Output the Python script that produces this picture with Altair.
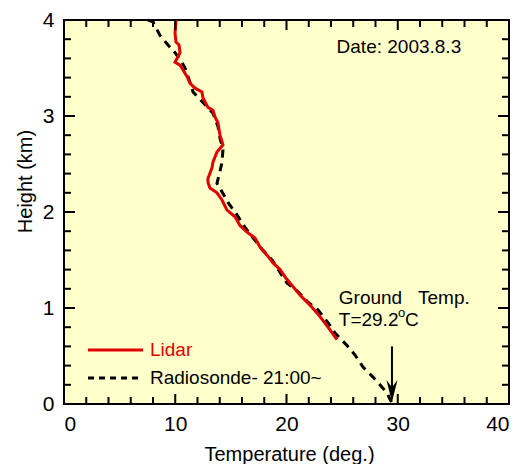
import altair as alt
import pandas as pd

# ---- data ----
lidar_T = [10.07, 9.98, 10.07, 10.34, 10.43, 10.16, 9.98, 10.43, 10.7, 11.06,
           11.33, 11.78, 12.4, 12.49, 12.94, 13.39, 13.57, 13.84, 14.02, 14.29,
           13.75, 13.39, 13.3, 12.94, 12.94, 13.12, 13.75, 14.2, 14.65, 15.37,
           15.82, 16.45, 17.17, 17.62, 18.25, 18.79, 19.42, 19.96, 20.31, 21.21,
           22.11, 23.01, 23.73, 24.54]
lidar_H = [4.0, 3.86, 3.77, 3.74, 3.66, 3.60, 3.56, 3.53, 3.48, 3.41,
           3.34, 3.29, 3.25, 3.19, 3.09, 3.06, 2.99, 2.93, 2.80, 2.70,
           2.625, 2.52, 2.46, 2.35, 2.31, 2.25, 2.20, 2.125, 2.02, 1.95,
           1.86, 1.79, 1.73, 1.635, 1.55, 1.47, 1.40, 1.31, 1.26, 1.135,
           1.03, 0.91, 0.80, 0.67]

sonde_T = [7.55, 8.0, 8.63, 9.35, 9.98, 10.6, 10.88, 11.33, 11.6, 12.5,
           13.39, 13.84, 14.02, 14.29, 14.2, 14.02, 13.75, 14.2, 14.74, 15.55,
           16.27, 16.99, 17.89, 18.7, 19.15, 20.04, 21.03, 21.93, 22.83, 23.91,
           24.36, 25.44, 26.16, 26.88, 27.78, 28.4, 29.03, 29.48]
sonde_H = [4.0, 3.98, 3.84, 3.74, 3.66, 3.56, 3.5, 3.35, 3.25, 3.14,
           3.03, 2.89, 2.77, 2.65, 2.52, 2.42, 2.30, 2.21, 2.10, 1.97,
           1.84, 1.73, 1.60, 1.50, 1.42, 1.26, 1.17, 1.06, 0.98, 0.82,
           0.74, 0.61, 0.51, 0.385, 0.28, 0.20, 0.115, 0.01]

x_major = [0, 10, 20, 30, 40]
x_minor = [v for v in range(2, 40, 2) if v % 10 != 0]
y_major = [0, 1, 2, 3, 4]
y_minor = [round(v * 0.2, 1) for v in range(1, 20) if v % 5 != 0]

ground_T = 29.48  # arrow position

W, H = 445, 384
FONT = "Liberation Sans"
RED = "#e00000"

xs = alt.Scale(domain=[0, 40], nice=False, zero=False)
ys = alt.Scale(domain=[0, 4], nice=False, zero=False)

lidar = pd.DataFrame({"T": lidar_T, "H": lidar_H, "i": range(len(lidar_T))})
sonde = pd.DataFrame({"T": sonde_T, "H": sonde_H, "i": range(len(sonde_T))})

base_x = alt.X("T:Q", scale=xs, title="Temperature (deg.)",
               axis=alt.Axis(values=x_major, format="d", ticks=False, tickSize=0, domain=False, grid=False,
                             labelFontSize=21, labelPadding=9, labelFont=FONT, labelColor="black",
                             titleFontSize=20, titleFont=FONT, titleFontWeight="normal",
                             titleColor="black", titleBaseline="alphabetic", titleY=56, titleX=225))
base_y = alt.Y("H:Q", scale=ys, title="Height (km)",
               axis=alt.Axis(values=y_major, format="d", ticks=False, tickSize=0, domain=False, grid=False,
                             labelFontSize=21, labelPadding=10, labelFont=FONT, labelColor="black",
                             titleFontSize=20, titleFont=FONT, titleFontWeight="normal",
                             titleColor="black", titleBaseline="alphabetic", titleX=-33, titleY=161))

sonde_line = alt.Chart(sonde).mark_line(color="black", strokeWidth=3, strokeDash=[8, 6]).encode(
    x=base_x, y=base_y, order="i:Q")
lidar_line = alt.Chart(lidar).mark_line(color=RED, strokeWidth=3).encode(
    x=alt.X("T:Q", scale=xs), y=alt.Y("H:Q", scale=ys), order="i:Q")

def xtick(vals, y0, y1):
    return alt.Chart(pd.DataFrame({"v": vals})).mark_rule(color="black", strokeWidth=2).encode(
        x=alt.X("v:Q", scale=xs), y=alt.value(y0), y2=alt.value(y1))

def ytick(vals, x0, x1):
    return alt.Chart(pd.DataFrame({"v": vals})).mark_rule(color="black", strokeWidth=2).encode(
        y=alt.Y("v:Q", scale=ys), x=alt.value(x0), x2=alt.value(x1))

ticks = [
    xtick(x_major, H, H - 10), xtick(x_minor, H, H - 7),
    xtick(x_major, 0, 10), xtick(x_minor, 0, 7),
    ytick(y_major, 0, 11), ytick(y_minor, 0, 7),
    ytick(y_major, W, W - 11), ytick(y_minor, W, W - 7),
]

# legend (inside plot)
leg = pd.DataFrame({"x": [2.16, 2.16], "x2": [7.1, 7.1], "y": [0.5625, 0.271],
                    "lab": ["Lidar", "Radiosonde- 21:00~"], "tx": [7.73, 7.73]})
leg_red = alt.Chart(leg.iloc[[0]]).mark_rule(color=RED, strokeWidth=3).encode(
    x=alt.X("x:Q", scale=xs), x2="x2:Q", y=alt.Y("y:Q", scale=ys))
leg_blk = alt.Chart(leg.iloc[[1]]).mark_rule(color="black", strokeWidth=3, strokeDash=[6, 5]).encode(
    x=alt.X("x:Q", scale=xs), x2="x2:Q", y=alt.Y("y:Q", scale=ys))
leg_txt_red = alt.Chart(leg.iloc[[0]]).mark_text(align="left", baseline="middle", font=FONT,
                                                  fontSize=19, color=RED).encode(
    x=alt.X("tx:Q", scale=xs), y=alt.Y("y:Q", scale=ys), text="lab:N")
leg_txt_blk = alt.Chart(leg.iloc[[1]]).mark_text(align="left", baseline="middle", font=FONT,
                                                  fontSize=19, color="black").encode(
    x=alt.X("tx:Q", scale=xs), y=alt.Y("y:Q", scale=ys), text="lab:N")

# annotations
ann = pd.DataFrame({
    "x": [24.5, 24.7, 24.7],
    "y": [3.72, 1.10, 0.875],
    "t": ["Date: 2003.8.3", "Ground\u00a0\u00a0\u00a0Temp.", "T=29.2"],
})
ann_txt = alt.Chart(ann).mark_text(align="left", baseline="middle", font=FONT, fontSize=19,
                                    color="black").encode(
    x=alt.X("x:Q", scale=xs), y=alt.Y("y:Q", scale=ys), text="t:N")
sup = alt.Chart(pd.DataFrame({"x": [30.02], "y": [0.95], "t": ["o"]})).mark_text(
    align="left", baseline="middle", font=FONT, fontSize=13, color="black").encode(
    x=alt.X("x:Q", scale=xs), y=alt.Y("y:Q", scale=ys), text="t:N")
degc = alt.Chart(pd.DataFrame({"x": [30.66], "y": [0.875], "t": ["C"]})).mark_text(
    align="left", baseline="middle", font=FONT, fontSize=19, color="black").encode(
    x=alt.X("x:Q", scale=xs), y=alt.Y("y:Q", scale=ys), text="t:N")

arrow = pd.DataFrame({"x": [ground_T], "y": [0.60], "y2": [0.10], "hy": [0.135]})
arrow_line = alt.Chart(arrow).mark_rule(color="black", strokeWidth=2).encode(
    x=alt.X("x:Q", scale=xs), y=alt.Y("y:Q", scale=ys), y2="y2:Q")
arrow_head = alt.Chart(arrow).mark_point(
    shape="M0,1 L-0.5,-1 L0,-0.35 L0.5,-1 Z", filled=True, color="black", opacity=1,
    size=484, strokeWidth=0).encode(
    x=alt.X("x:Q", scale=xs), y=alt.Y("hy:Q", scale=ys))

chart = alt.layer(
    sonde_line, lidar_line, *ticks,
    leg_red, leg_blk, leg_txt_red, leg_txt_blk,
    ann_txt, sup, degc, arrow_line, arrow_head,
).properties(
    width=W, height=H,
    autosize=alt.AutoSizeParams(type="none"),
    padding={"left": 56, "top": 12, "right": 3, "bottom": 60},
    background="white",
).configure_view(
    fill="#FFFFCC", stroke="black", strokeWidth=2
)

chart.save("out.html", embed_options={"renderer": "svg", "actions": False})
